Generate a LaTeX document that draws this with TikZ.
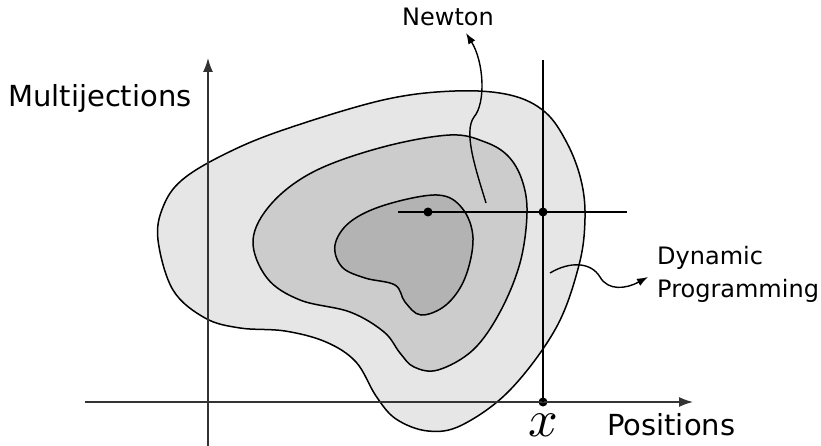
\documentclass[tikz,border=0pt]{standalone}
\usepackage{fontspec}
\setmainfont{DejaVu Sans}
\usetikzlibrary{arrows.meta}
\definecolor{outerg}{HTML}{E6E6E6}
\definecolor{midg}{HTML}{CCCCCC}
\definecolor{innerg}{HTML}{B3B3B3}
\tikzset{
  blob/.style={draw=black, line width=1.5pt},
  axisline/.style={draw=black!80, line width=1.4pt},
  guide/.style={draw=black, line width=1.3pt},
  dotnode/.style={circle, fill=black, inner sep=0pt, minimum size=9pt},
  bigtip/.style={-{Latex[length=14pt,width=10pt]}},
  smalltip/.style={-{Latex[length=11pt,width=8pt]}},
  axislabel/.style={font=\fontsize{29}{35}\selectfont, inner sep=0pt},
  notelabel/.style={font=\fontsize{24}{33}\selectfont, inner sep=0pt},
}
\begin{document}
\begin{tikzpicture}[x=1pt,y=-1pt]
\useasboundingbox (0,0) rectangle (821,446);
% regions
\path[blob, fill=outerg] plot[smooth cycle, tension=0.6] coordinates {
  (158,240) (163,207) (182,180) (225,154) (283,130) (383,100) (455,91) (510,95)
  (545,112) (567,143) (581,180) (585,218) (579,265) (556,328) (510,390)
  (462,425) (428,431) (396,419) (376,396) (356,362) (326,342) (285,331)
  (240,328) (205,318) (173,290)};
\path[blob, fill=midg] plot[smooth cycle, tension=0.6] coordinates {
  (253,240) (272,203) (315,171) (383,147) (450,135) (485,142) (508,156)
  (522,180) (527,213) (520,263) (500,312) (473,350) (438,370) (414,367)
  (400,353) (384,332) (350,312) (300,300) (267,278)};
\path[blob, fill=innerg] plot[smooth cycle, tension=0.6] coordinates {
  (335,245) (350,222) (385,205) (437,195) (462,208) (473,238) (465,278)
  (446,305) (421,315) (405,302) (395,285) (365,278) (342,267)};
% coordinates and dots
\coordinate (xs) at (85,402);
\coordinate (xe) at (693,402);
\coordinate (ys) at (208,446);
\coordinate (ye) at (208,58);
\coordinate (vtop) at (543,60);
\coordinate (hl) at (398,212);
\coordinate (hr) at (627,212);
\node[dotnode] (d1) at (428,212) {};
\node[dotnode] (d2) at (543,212) {};
\node[dotnode] (d3) at (543,402) {};
% axes
\draw[axisline, bigtip] (xs) -- (xe);
\draw[axisline, bigtip] (ys) -- (ye);
% guides
\draw[guide] (vtop) -- (d3.center);
\draw[guide] (hl) -- (hr);
% labels
\node[axislabel, anchor=base west] (ml) at (8,107) {Multijections};
\node[axislabel, anchor=base west] (pl) at (607,435) {Positions};
\node[inner sep=0pt, scale=5.2] (xl) at (543,425) {$x$};
\node[notelabel, anchor=base] (nl) at (448,26) {Newton};
\node[notelabel, anchor=north west, align=left] (dl) at (657,246) {Dynamic\\Programming};
% annotation arrows
\coordinate (ns) at (486,203);
\coordinate (ne) at (466,33);
\draw[guide, line width=1.4pt, smalltip] (ns) .. controls (476,170) and (463,132) .. (474,117)
  .. controls (486,103) and (484,62) .. (ne);
\coordinate (ds) at (550,273);
\coordinate (de) at (648,277);
\draw[guide, line width=1.4pt, smalltip] (ds) .. controls (570,261) and (591,262) .. (600,277)
  .. controls (608,291) and (626,289) .. (de);
\end{tikzpicture}
\end{document}
